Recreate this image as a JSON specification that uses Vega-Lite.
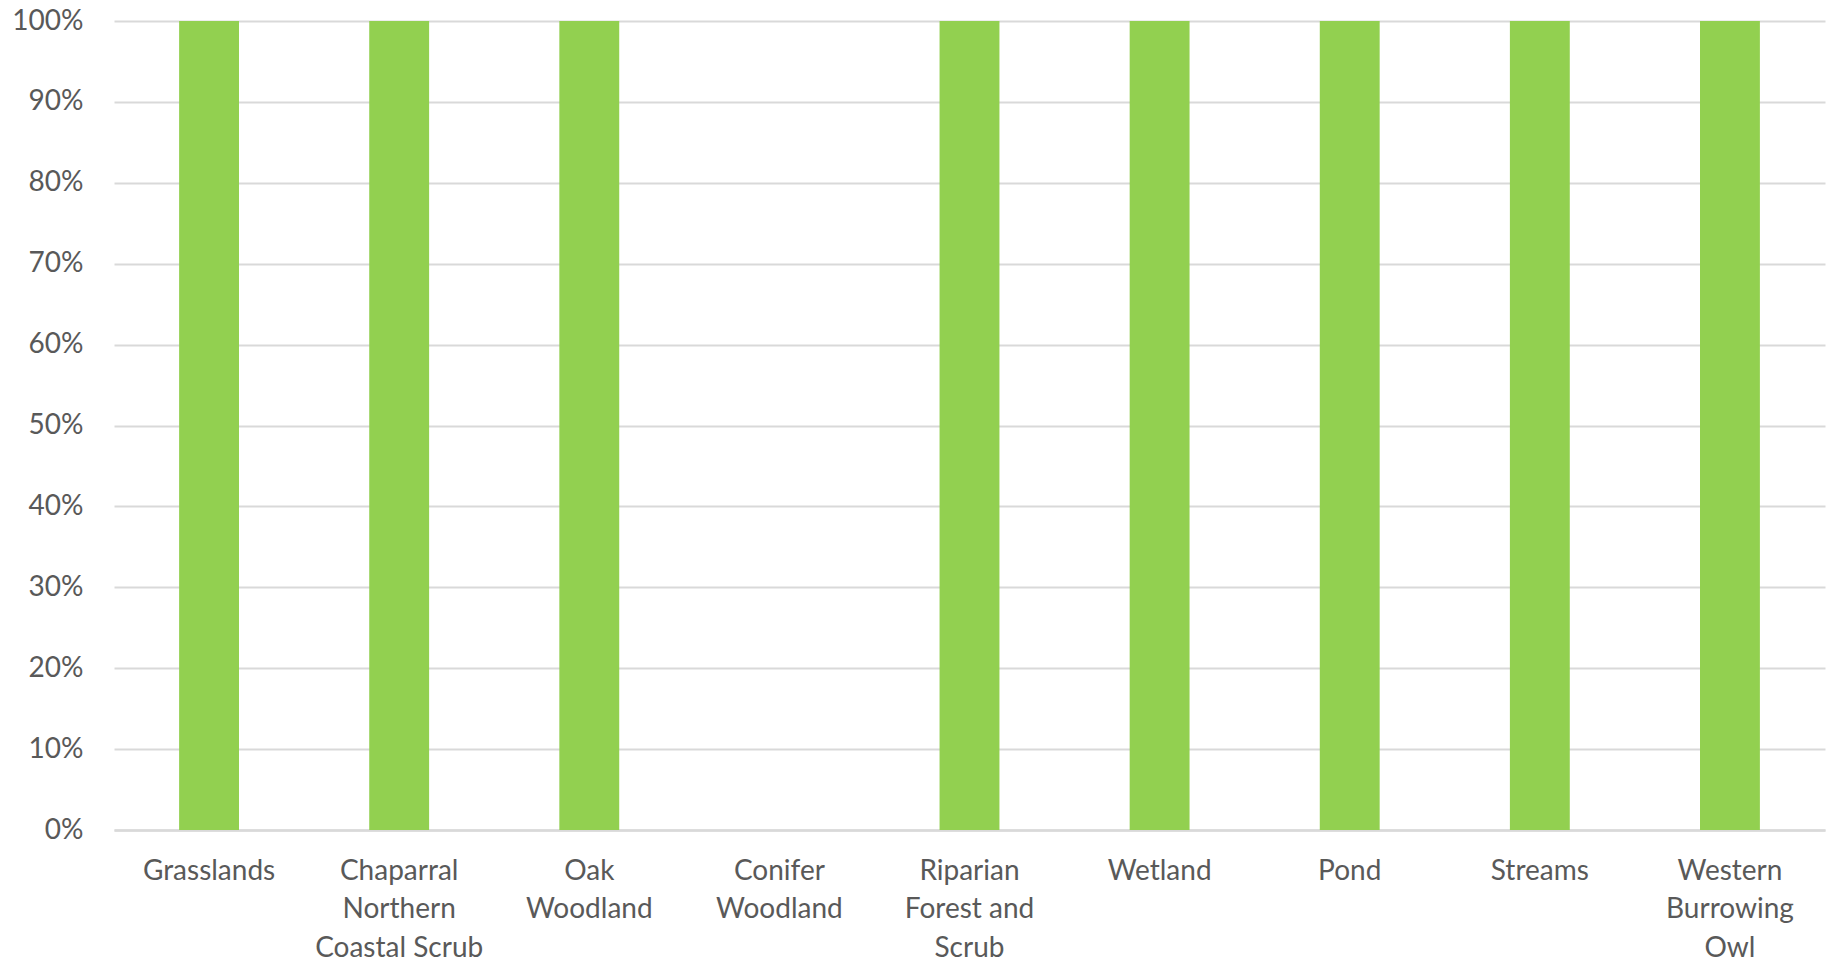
{
  "$schema": "https://vega.github.io/schema/vega-lite/v6.json",
  "width": 1711,
  "height": 809,
  "autosize": {"type": "none"},
  "padding": {"left": 114, "top": 21, "right": 8, "bottom": 137},
  "background": "white",
  "config": {
    "view": {"stroke": null},
    "font": "Lato"
  },
  "data": {
    "values": [
      {"habitat": "Grasslands", "share": 1},
      {"habitat": "Chaparral|Northern|Coastal Scrub", "share": 1},
      {"habitat": "Oak|Woodland", "share": 1},
      {"habitat": "Conifer|Woodland", "share": 0},
      {"habitat": "Riparian|Forest and|Scrub", "share": 1},
      {"habitat": "Wetland", "share": 1},
      {"habitat": "Pond", "share": 1},
      {"habitat": "Streams", "share": 1},
      {"habitat": "Western|Burrowing|Owl", "share": 1}
    ]
  },
  "mark": {"type": "bar", "color": "#92d050"},
  "encoding": {
    "x": {
      "field": "habitat",
      "type": "nominal",
      "sort": null,
      "scale": {"paddingInner": 0.685, "paddingOuter": 0.3425},
      "axis": {
        "title": null,
        "labelAngle": 0,
        "labelExpr": "split(datum.label, '|')",
        "labelFont": "Lato",
        "labelFontSize": 28,
        "labelColor": "#595959",
        "labelLineHeight": 38.5,
        "labelPadding": 27,
        "labelBaseline": "top",
        "ticks": false,
        "domainColor": "#d9d9d9",
        "domainWidth": 2.5,
        "grid": false
      }
    },
    "y": {
      "field": "share",
      "type": "quantitative",
      "scale": {"domain": [0, 1], "nice": false},
      "axis": {
        "title": null,
        "format": ".0%",
        "values": [0, 0.1, 0.2, 0.3, 0.4, 0.5, 0.6, 0.7, 0.8, 0.9, 1],
        "labelFont": "Lato",
        "labelFontSize": 28,
        "labelColor": "#595959",
        "labelPadding": 31,
        "ticks": false,
        "domain": false,
        "grid": true,
        "gridColor": "#d9d9d9",
        "gridWidth": 2
      }
    }
  }
}
